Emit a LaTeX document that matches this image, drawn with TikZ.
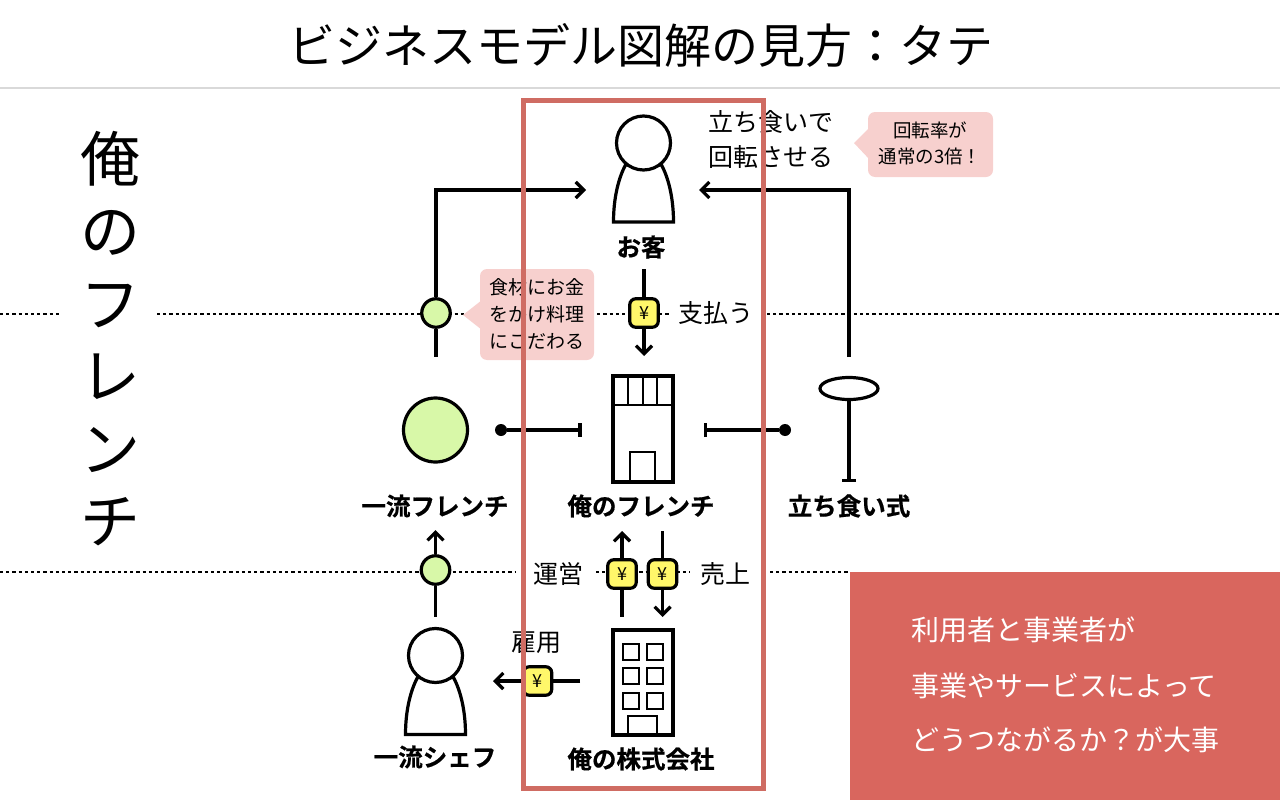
\documentclass[tikz,border=0pt]{standalone}
\usepackage{fontspec}
\setmainfont{Noto Sans CJK JP}
\newfontfamily\heavyfont[FakeBold=0.6]{Noto Sans CJK JP Bold}
\usetikzlibrary{arrows.meta, shapes.geometric}
\definecolor{framered}{HTML}{CF6C63}
\definecolor{boxred}{HTML}{D9665E}
\definecolor{notepink}{HTML}{F7D0CE}
\definecolor{dotgreen}{HTML}{D8F8A8}
\definecolor{yenyellow}{HTML}{FFF76A}
\newcommand{\fsize}[1]{\fontsize{#1}{#1}\selectfont}
\tikzset{
    link/.style={line width=3.2pt},
    icon/.style={line width=3.2pt, fill=white},
    thinicon/.style={line width=2pt},
    dotline/.style={line width=1.5pt, dash pattern=on 3.2pt off 3pt},
    yenbox/.style={draw, line width=3.2pt, fill=yenyellow, rounded corners=6pt, minimum size=28.5pt, inner sep=0pt, font=\fsize{18}},
    greendot/.style={draw, line width=3.2pt, fill=dotgreen, circle, minimum size=28.5pt, inner sep=0pt},
    iconlabel/.style={font=\fsize{24.5}\heavyfont, inner sep=0pt},
    flowlabel/.style={font=\fsize{25}, inner sep=0pt, align=center},
    notelabel/.style={font=\fsize{19}, inner sep=0pt, align=center},
    person/.pic={
        \draw[icon] (-30,79) .. controls (-30,55) and (-25,35) .. (-18,22) -- (18,22) .. controls (25,35) and (30,55) .. (30,79) -- cycle;
        \draw[icon] (0,0) circle (27pt);
    },
    shop/.pic={
        \draw[icon] (-30,-53) rectangle (30,53);
        \draw[thinicon] (-30,-24) -- (30,-24);
        \foreach \k in {-15,0,14} \draw[thinicon] (\k,-53) -- (\k,-24);
        \draw[thinicon] (-13,53) -- (-13,23) -- (12,23) -- (12,53);
    },
    office/.pic={
        \draw[icon] (-30,-52.5) rectangle (30,52.5);
        \foreach \cx in {-12,12} \foreach \cy in {-31,-7,18}
            \draw[thinicon] (\cx-8,\cy-8) rectangle (\cx+8,\cy+8);
        \draw[thinicon] (-15,52.5) -- (-15,33.5) -- (14,33.5) -- (14,52.5);
    },
    >={Straight Barb[length=8pt,width=16pt]}
}
\begin{document}
\begin{tikzpicture}[x=1pt, y=-1pt]
    \useasboundingbox (0,0) rectangle (1280,800);

    % 1. Title and rules
    \node[font=\fsize{47}, inner sep=0pt] (title) at (641,45) {ビジネスモデル図解の見方：タテ};
    \draw[line width=1.2pt, black!15] (0,88) -- (1280,88);
    \draw[dotline] (0,314) -- (60,314) (157,314) -- (670,314) (767,314) -- (1280,314);
    \draw[dotline] (0,572) -- (516,572) (596,572) -- (690,572) (770,572) -- (850,572);

    % 2. Name on the left
    \node[font=\fontsize{60}{72.5}\selectfont, align=center, inner sep=0pt] (name) at (110,338.5) {俺\\の\\フ\\レ\\ン\\チ};

    % 3. Icons and their labels
    \pic at (643.5,143) {person};
    \pic at (643,429) {shop};
    \pic at (643,682.5) {office};
    \pic at (435.5,655.5) {person};
    \node[draw, line width=3.2pt, fill=dotgreen, circle, minimum size=64pt, inner sep=0pt] (rival) at (435.5,430) {};
    \node[draw, line width=3.2pt, fill=white, ellipse, minimum width=58pt, minimum height=22pt, inner sep=0pt] (plate) at (849,388.5) {};
    \coordinate (platefoot) at (849,482);
    \draw[link, -{Bar[width=14pt]}] (plate) -- (platefoot);

    \node[iconlabel] (guest) at (641,247) {お客};
    \node[iconlabel] (rivallabel) at (435,506) {一流フレンチ};
    \node[iconlabel] (shoplabel) at (641,506) {俺のフレンチ};
    \node[iconlabel] (platelabel) at (849,506) {立ち食い式};
    \node[iconlabel] (chef) at (435,757) {一流シェフ};
    \node[iconlabel] (company) at (641,759) {俺の株式会社};

    % 4. Flows to the guest
    \node[greendot] (rivaldot) at (436,313) {};
    \coordinate (rivaltop) at (436,357);
    \coordinate (guestleft) at (586,190);
    \coordinate (platetop) at (849,357);
    \coordinate (guestright) at (699,190);
    \draw[link] (rivaldot) -- (rivaltop);
    \draw[link, ->] (rivaldot) |- (guestleft);
    \draw[link, ->] (platetop) |- (guestright);

    % 5. Money flows
    \coordinate (paytop) at (644,269);
    \coordinate (paybot) at (644,356);
    \node[yenbox] (yenpay) at (644,313) {¥};
    \draw[link] (paytop) -- (yenpay);
    \draw[link, ->] (yenpay) -- (paybot);

    \coordinate (runtop) at (622,531);
    \coordinate (runbot) at (622,617);
    \node[yenbox] (yenrun) at (622,574) {¥};
    \draw[link, ->] (yenrun) -- (runtop);
    \draw[link] (yenrun) -- (runbot);

    \coordinate (saletop) at (662.5,531);
    \coordinate (salebot) at (662.5,617);
    \node[yenbox] (yensale) at (662.5,574) {¥};
    \draw[link] (saletop) -- (yensale);
    \draw[link, ->] (yensale) -- (salebot);

    \coordinate (hireright) at (580,681);
    \coordinate (hireleft) at (493,681);
    \node[yenbox] (yenhire) at (537.5,681) {¥};
    \draw[link] (hireright) -- (yenhire);
    \draw[link, ->] (yenhire) -- (hireleft);

    \coordinate (chefbot) at (435.5,617);
    \coordinate (cheftop) at (435.5,530);
    \node[greendot] (chefdot) at (435.5,570) {};
    \draw[link, ->] (chefdot) -- (cheftop);
    \draw[link] (chefdot) -- (chefbot);

    % 6. Position lines
    \coordinate (rivalend) at (581.5,430);
    \coordinate (plateend) at (704,430);
    \node[circle, fill, minimum size=12pt, inner sep=0pt] (rivalball) at (501,430) {};
    \node[circle, fill, minimum size=12pt, inner sep=0pt] (plateball) at (785,430) {};
    \draw[link, -{Bar[width=14pt]}] (rivalball) -- (rivalend);
    \draw[link, -{Bar[width=14pt]}] (plateball) -- (plateend);

    % 7. Flow labels
    \node[flowlabel] (turn) at (771,139.5) {立ち食いで\\[10pt]回転させる};
    \node[flowlabel] (pay) at (716,313) {支払う};
    \node[flowlabel] (run) at (558.5,574) {運営};
    \node[flowlabel] (sale) at (725,574) {売上};
    \node[flowlabel] (hire) at (536,643) {雇用};

    % 8. Notes
    \fill[notepink, rounded corners=7pt] (480,269) rectangle (594,360);
    \fill[notepink] (482,300) -- (463,315) -- (482,330) -- cycle;
    \node[notelabel] (foodnote) at (537,314) {食材にお金\\[8pt]をかけ料理\\[8pt]にこだわる};
    \fill[notepink, rounded corners=7pt] (868,112) rectangle (993,177);
    \fill[notepink] (870,127) -- (854,143) -- (870,160) -- cycle;
    \node[notelabel, font=\fsize{18.5}] (ratenote) at (930,143) {回転率が\\[7.5pt]通常の3倍！};

    % 9. Frame and message box
    \draw[line width=5pt, framered] (523,100.5) rectangle (763,788.5);
    \fill[boxred] (850,572) rectangle (1280,800);
    \node[font=\fsize{28}, text=white, anchor=west, inner sep=0pt] (msga) at (911,630) {利用者と事業者が};
    \node[font=\fsize{28}, text=white, anchor=west, inner sep=0pt] (msgb) at (911,686) {事業やサービスによって};
    \node[font=\fsize{28}, text=white, anchor=west, inner sep=0pt] (msgc) at (911,740) {どうつながるか？が大事};
\end{tikzpicture}
\end{document}
